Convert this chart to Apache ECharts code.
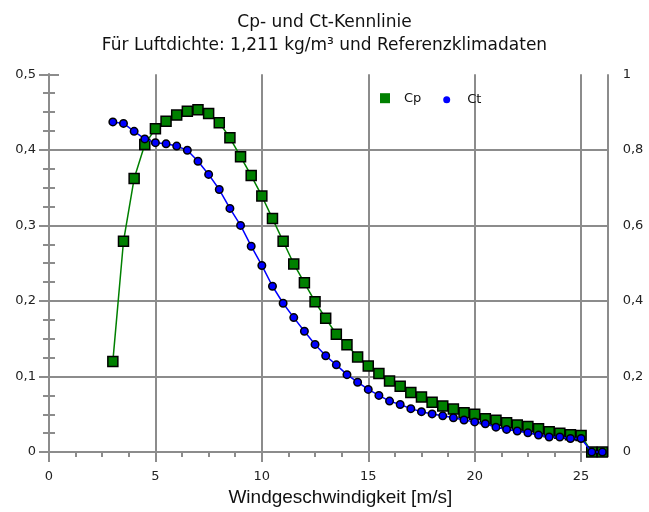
<!DOCTYPE html>
<html>
<head>
<meta charset="utf-8">
<script src="https://cdn.jsdelivr.net/npm/echarts@6/dist/echarts.min.js"></script>
<style>html,body{margin:0;padding:0;background:#fff}#c{width:649px;height:512px}</style>
</head>
<body>
<div id="c"></div>
<script>
const windSpeed = [3,3.5,4,4.5,5,5.5,6,6.5,7,7.5,8,8.5,9,9.5,10,10.5,11,11.5,12,12.5,13,13.5,14,14.5,15,15.5,16,16.5,17,17.5,18,18.5,19,19.5,20,20.5,21,21.5,22,22.5,23,23.5,24,24.5,25,25.5,26];
const cpValues = [0.120,0.279,0.362,0.407,0.428,0.438,0.446,0.451,0.453,0.448,0.436,0.416,0.391,0.366,0.339,0.309,0.279,0.249,0.224,0.199,0.177,0.156,0.142,0.126,0.114,0.104,0.094,0.087,0.079,0.073,0.066,0.061,0.057,0.052,0.050,0.044,0.042,0.039,0.036,0.034,0.031,0.027,0.025,0.023,0.022,0,0];
const ctValues = [0.874,0.870,0.849,0.829,0.819,0.816,0.810,0.799,0.770,0.735,0.695,0.645,0.600,0.545,0.494,0.439,0.394,0.356,0.320,0.285,0.255,0.231,0.205,0.185,0.166,0.150,0.135,0.126,0.115,0.107,0.101,0.096,0.091,0.085,0.080,0.075,0.066,0.060,0.056,0.051,0.045,0.040,0.040,0.036,0.036,0,0];
const titleText = 'Cp- und Ct-Kennlinie';
const subtitleText = 'Für Luftdichte: 1,211 kg/m³ und Referenzklimadaten';
const xAxisName = 'Windgeschwindigkeit [m/s]';
const seriesNames = ['Cp', 'Ct'];

const gray = '#8c8c8c';
const fmt = v => v === 0 ? '0' : (Number.isInteger(v) ? String(v) : String(+v.toFixed(2)).replace('.', ','));

const chart = echarts.init(document.getElementById('c'), null, {renderer: 'canvas'});
chart.setOption({
  animation: false,
  backgroundColor: '#fff',
  title: {
    text: titleText + '\n' + subtitleText,
    left: 'center',
    top: 11,
    padding: 0,
    textStyle: {fontFamily: 'DejaVu Sans', fontSize: 17, fontWeight: 'normal', color: '#111', lineHeight: 23}
  },
  legend: [
    {data: [{name: seriesNames[0], icon: 'rect'}], left: 380, top: 91.7, itemWidth: 10, itemHeight: 10, padding: 0,
     itemStyle: {borderWidth: 0}, textStyle: {fontFamily: 'DejaVu Sans', fontSize: 13, color: '#111', padding: [0,0,0,9]}},
    {data: [{name: seriesNames[1], icon: 'circle'}], left: 443.2, top: 93.2, itemWidth: 7, itemHeight: 7, padding: 0,
     itemStyle: {borderWidth: 0}, textStyle: {fontFamily: 'DejaVu Sans', fontSize: 13, color: '#111', padding: [0,0,0,12]}}
  ],
  grid: {left: 49, right: 41.3, top: 74.3, bottom: 56, containLabel: false},
  xAxis: [
    {
      type: 'value', min: 0, max: 26.25, interval: 5, position: 'bottom',
      name: xAxisName, nameLocation: 'middle', nameGap: 34,
      nameTextStyle: {fontFamily: 'Liberation Sans', fontSize: 19, color: '#111', padding: [0,0,0,24]},
      axisLine: {lineStyle: {color: gray, width: 2}},
      axisTick: {show: true, length: 10, lineStyle: {color: gray, width: 2}},
      axisLabel: {fontFamily: 'DejaVu Sans', fontSize: 13, color: '#222', margin: 18, showMaxLabel: false,
        formatter: v => (v % 5 === 0 ? String(v) : '')},
      splitLine: {show: true, lineStyle: {color: gray, width: 2}}
    },
    {
      type: 'value', min: 0, max: 26.25, interval: 1.25, position: 'bottom',
      axisLine: {show: false},
      axisTick: {show: true, length: 5, lineStyle: {color: gray, width: 2}},
      axisLabel: {show: false},
      splitLine: {show: false}
    }
  ],
  yAxis: [
    {
      type: 'value', min: 0, max: 0.5, interval: 0.1, position: 'left',
      axisLine: {show: true, lineStyle: {color: gray, width: 2}},
      axisTick: {show: true, length: 10, lineStyle: {color: gray, width: 2}},
      minorTick: {show: true, splitNumber: 4, length: 6, lineStyle: {color: gray, width: 2}},
      axisLabel: {fontFamily: 'DejaVu Sans', fontSize: 13, color: '#222', margin: 13, formatter: fmt},
      splitLine: {show: true, showMaxLine: false, lineStyle: {color: gray, width: 2}}
    },
    {
      type: 'value', min: 0, max: 1, interval: 0.2, position: 'right',
      axisLine: {show: true, lineStyle: {color: gray, width: 2}},
      axisTick: {show: true, length: 10, lineStyle: {color: gray, width: 2}},
      minorTick: {show: true, splitNumber: 4, length: 6, lineStyle: {color: gray, width: 2}},
      axisLabel: {fontFamily: 'DejaVu Sans', fontSize: 13, color: '#222', margin: 15, formatter: fmt},
      splitLine: {show: false}
    }
  ],
  series: [
    {
      name: seriesNames[0], type: 'line', xAxisIndex: 0, yAxisIndex: 0,
      data: windSpeed.map((x, i) => [x, cpValues[i]]),
      symbol: 'rect', symbolSize: 10, showAllSymbol: true,
      itemStyle: {color: '#008000', borderColor: '#000', borderWidth: 1.5},
      lineStyle: {color: '#008000', width: 1.5},
      clip: false, z: 3
    },
    {
      name: seriesNames[1], type: 'line', xAxisIndex: 0, yAxisIndex: 1,
      data: windSpeed.map((x, i) => [x, ctValues[i]]),
      symbol: 'circle', symbolSize: 7.5, showAllSymbol: true,
      itemStyle: {color: '#0000ff', borderColor: '#000', borderWidth: 1.5},
      lineStyle: {color: '#0000ff', width: 1.5},
      clip: false, z: 4
    }
  ]
});
</script>
</body>
</html>
